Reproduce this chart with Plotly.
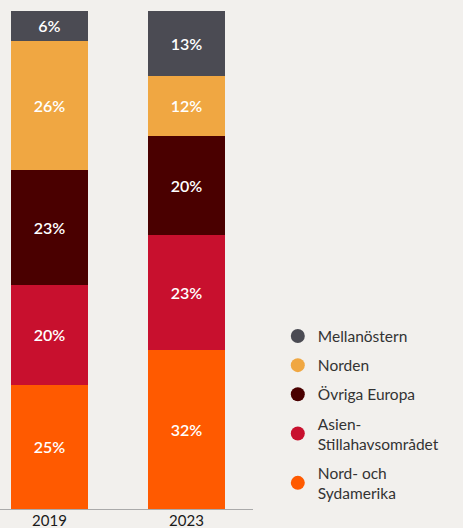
import plotly.graph_objects as go

years = ["2019", "2023"]
regions = ["Nord- och<br>Sydamerika", "Asien-<br>Stillahavsområdet", "Övriga Europa", "Norden", "Mellanöstern"]
colors = ["#ff5a00", "#c8102e", "#4a0000", "#f0a742", "#4b4b53"]
share_2019 = [25, 20, 23, 26, 6]
share_2023 = [32, 23, 20, 12, 13]

xpos = [0, 1]
fig = go.Figure()

# stacked bars, bottom segment first
for i, name in enumerate(regions):
    vals = [share_2019[i], share_2023[i]]
    fig.add_trace(go.Bar(
        x=xpos, y=vals, width=0.56,
        marker=dict(color=colors[i], line=dict(width=0)),
        text=[f"{v}%" for v in vals],
        textposition="inside", insidetextanchor="middle",
        textfont=dict(color="white", size=16, family="Lato", weight=600),
        showlegend=False, hoverinfo="skip",
    ))

# legend with round markers, top entry first
for i in reversed(range(len(regions))):
    fig.add_trace(go.Scatter(
        x=[None], y=[None], mode="markers", name=regions[i],
        marker=dict(color=colors[i], size=14, symbol="circle"),
        legendgroup=str(i),
    ))

fig.update_layout(
    width=463, height=528,
    barmode="stack",
    paper_bgcolor="#f2f0ed", plot_bgcolor="#f2f0ed",
    margin=dict(l=0, r=210, t=11, b=19),
    font=dict(family="Lato", color="#2a2a2a"),
    legend=dict(
        xref="container", yref="container",
        x=0.60, y=0.395, xanchor="left", yanchor="top",
        font=dict(size=15.5, color="#333333"),
        traceorder="grouped", tracegroupgap=6,
        itemwidth=30, bgcolor="rgba(0,0,0,0)",
    ),
    xaxis=dict(
        range=[-0.361, 1.485], tickvals=xpos, ticktext=years,
        showline=True, linecolor="#aaaaaa", linewidth=1,
        showgrid=False, zeroline=False, ticks="",
        tickfont=dict(size=15, color="#1a1a1a"),
        ticklabelstandoff=-2,
        automargin=False, fixedrange=True,
    ),
    yaxis=dict(range=[0, 100], visible=False, fixedrange=True),
)

fig.write_html("out.html", config={"displayModeBar": False},
               post_script="document.body.style.margin='0';")
